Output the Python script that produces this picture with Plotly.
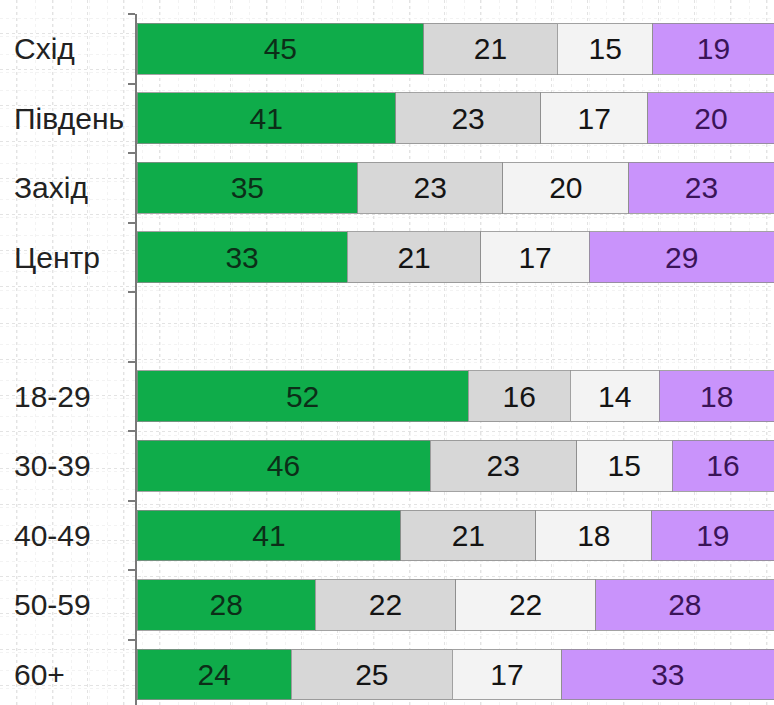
import plotly.graph_objects as go

categories = ["Схід", "Південь", "Захід", "Центр", " ", "18-29", "30-39", "40-49", "50-59", "60+"]
bar_categories = ["Схід", "Південь", "Захід", "Центр", "18-29", "30-39", "40-49", "50-59", "60+"]

series_green = [45, 41, 35, 33, 52, 46, 41, 28, 24]
series_gray = [21, 23, 23, 21, 16, 23, 21, 22, 25]
series_light = [15, 17, 20, 17, 14, 15, 18, 22, 17]
series_purple = [19, 20, 23, 29, 18, 16, 19, 28, 33]

series = [
    ("green", series_green, "#0fac4a", "#0c2e18"),
    ("gray", series_gray, "#d7d7d7", "#141414"),
    ("light", series_light, "#f3f3f3", "#141414"),
    ("purple", series_purple, "#c993fb", "#3a1458"),
]

FONT = "Liberation Sans, Arial, sans-serif"
FS = 30
W, H = 774, 705
PLOT_LEFT, PLOT_TOP = 137, 14

fig = go.Figure()
# empty trace that keeps the background grid subplot alive
fig.add_trace(go.Scatter(x=[], y=[], xaxis="x", yaxis="y", hoverinfo="skip", showlegend=False))

for name, vals, color, tcolor in series:
    fig.add_trace(go.Bar(
        name=name,
        y=bar_categories,
        x=vals,
        xaxis="x2",
        yaxis="y2",
        orientation="h",
        marker=dict(color=color, line=dict(color="rgba(140,140,140,0.8)", width=1)),
        width=0.73,
        text=[str(v) for v in vals],
        textposition="inside",
        insidetextanchor="middle",
        textangle=0,
        textfont=dict(family=FONT, size=FS, color=tcolor),
        hoverinfo="skip",
    ))

for c in categories:
    if c.strip():
        fig.add_annotation(
            x=12 / W, xref="paper", y=c, yref="y2",
            text=c, showarrow=False, xanchor="left", yanchor="middle",
            font=dict(family=FONT, size=FS, color="#222222"),
        )

fig.update_layout(
    barmode="stack",
    barnorm="percent",
    width=W,
    height=H,
    margin=dict(l=0, r=0, t=0, b=0),
    paper_bgcolor="white",
    plot_bgcolor="rgba(0,0,0,0)",
    showlegend=False,
    uniformtext=dict(minsize=FS, mode="show"),
    # background paper grid (first subplot, drawn beneath the bars)
    xaxis=dict(
        domain=[0, 1], anchor="y", range=[0, W], showticklabels=False, ticks="",
        showgrid=True, tick0=52, dtick=35.7, gridcolor="#e3e3e3", griddash="dot", gridwidth=1,
        minor=dict(showgrid=True, dtick=35.7 / 2, gridcolor="#f3f3f3", griddash="dot"),
        zeroline=False, showline=False, fixedrange=True,
    ),
    yaxis=dict(
        domain=[0, 1], anchor="x", range=[H, 0], showticklabels=False, ticks="",
        showgrid=True, tick0=33, dtick=36.25, gridcolor="#e3e3e3", griddash="dot", gridwidth=1,
        minor=dict(showgrid=True, dtick=36.25 / 2, gridcolor="#f3f3f3", griddash="dot"),
        zeroline=False, showline=False, fixedrange=True,
    ),
    xaxis2=dict(
        domain=[PLOT_LEFT / W, 1], anchor="y2", range=[0, 100],
        showticklabels=False, showgrid=False, zeroline=False, showline=False, ticks="",
    ),
    yaxis2=dict(
        domain=[0, 1 - PLOT_TOP / H], anchor="x2",
        type="category", categoryorder="array", categoryarray=categories,
        range=[9.44, -0.5], showticklabels=False,
        showline=True, linecolor="#7a7a7a", linewidth=1.5,
        ticks="outside", tickson="boundaries", ticklen=7, tickwidth=1.5, tickcolor="#7a7a7a",
        showgrid=False, zeroline=False,
    ),
)

fig.write_html(
    "out.html",
    config={"displayModeBar": False},
    post_script="document.body.style.margin='0';document.body.style.overflow='hidden';",
)
